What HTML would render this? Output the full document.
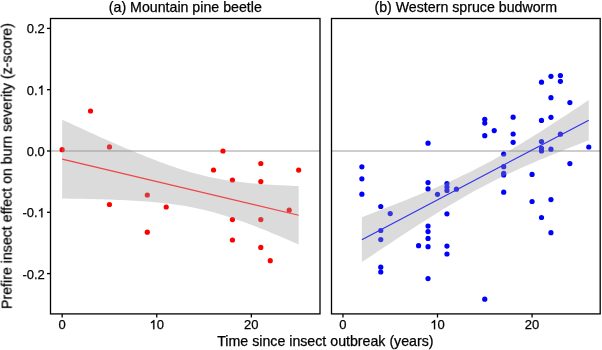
<!DOCTYPE html>
<html><head><meta charset="utf-8"><style>
html,body{margin:0;padding:0;background:#fff;width:602px;height:350px;overflow:hidden}
svg{display:block}
text{will-change:transform;stroke:#000;stroke-width:0.25px}
text{font-family:"Liberation Sans",sans-serif}
</style></head><body>
<svg width="602" height="350" viewBox="0 0 602 350">
<rect width="602" height="350" fill="#fff"/>
<line x1="50.5" y1="151.0" x2="320" y2="151.0" stroke="#bdbdbd" stroke-width="1.5"/>
<line x1="331.5" y1="151.0" x2="600.2" y2="151.0" stroke="#bdbdbd" stroke-width="1.5"/>
<circle cx="62.15" cy="149.7" r="2.6" fill="#ff0000"/>
<circle cx="90.53" cy="111" r="2.6" fill="#ff0000"/>
<circle cx="109.45" cy="146.9" r="2.6" fill="#ff0000"/>
<circle cx="109.45" cy="204.5" r="2.6" fill="#ff0000"/>
<circle cx="147.29" cy="195" r="2.6" fill="#ff0000"/>
<circle cx="147.29" cy="232.2" r="2.6" fill="#ff0000"/>
<circle cx="166.21" cy="207" r="2.6" fill="#ff0000"/>
<circle cx="213.51" cy="170" r="2.6" fill="#ff0000"/>
<circle cx="222.97" cy="151" r="2.6" fill="#ff0000"/>
<circle cx="232.43" cy="180" r="2.6" fill="#ff0000"/>
<circle cx="232.43" cy="219.6" r="2.6" fill="#ff0000"/>
<circle cx="232.43" cy="240" r="2.6" fill="#ff0000"/>
<circle cx="260.81" cy="163.5" r="2.6" fill="#ff0000"/>
<circle cx="260.81" cy="181.6" r="2.6" fill="#ff0000"/>
<circle cx="260.81" cy="219.6" r="2.6" fill="#ff0000"/>
<circle cx="260.81" cy="247.4" r="2.6" fill="#ff0000"/>
<circle cx="270.27" cy="260.7" r="2.6" fill="#ff0000"/>
<circle cx="289.19" cy="210.2" r="2.6" fill="#ff0000"/>
<circle cx="298.65" cy="170.1" r="2.6" fill="#ff0000"/>
<circle cx="361.86" cy="166.8" r="2.6" fill="#0000ff"/>
<circle cx="361.86" cy="178.8" r="2.6" fill="#0000ff"/>
<circle cx="361.86" cy="194.2" r="2.6" fill="#0000ff"/>
<circle cx="380.77" cy="206.5" r="2.6" fill="#0000ff"/>
<circle cx="380.77" cy="230.5" r="2.6" fill="#0000ff"/>
<circle cx="380.77" cy="239.6" r="2.6" fill="#0000ff"/>
<circle cx="380.77" cy="267.2" r="2.6" fill="#0000ff"/>
<circle cx="380.77" cy="272" r="2.6" fill="#0000ff"/>
<circle cx="390.22" cy="213.6" r="2.6" fill="#0000ff"/>
<circle cx="418.59" cy="245.7" r="2.6" fill="#0000ff"/>
<circle cx="428.04" cy="143.2" r="2.6" fill="#0000ff"/>
<circle cx="428.04" cy="182.6" r="2.6" fill="#0000ff"/>
<circle cx="428.04" cy="188.9" r="2.6" fill="#0000ff"/>
<circle cx="428.04" cy="226.1" r="2.6" fill="#0000ff"/>
<circle cx="428.04" cy="231.6" r="2.6" fill="#0000ff"/>
<circle cx="428.04" cy="238.4" r="2.6" fill="#0000ff"/>
<circle cx="428.04" cy="246.7" r="2.6" fill="#0000ff"/>
<circle cx="428.04" cy="278.6" r="2.6" fill="#0000ff"/>
<circle cx="437.50" cy="194.3" r="2.6" fill="#0000ff"/>
<circle cx="446.95" cy="183.5" r="2.6" fill="#0000ff"/>
<circle cx="446.95" cy="187" r="2.6" fill="#0000ff"/>
<circle cx="446.95" cy="190.5" r="2.6" fill="#0000ff"/>
<circle cx="446.95" cy="213.8" r="2.6" fill="#0000ff"/>
<circle cx="446.95" cy="246.1" r="2.6" fill="#0000ff"/>
<circle cx="446.95" cy="254" r="2.6" fill="#0000ff"/>
<circle cx="456.41" cy="189.2" r="2.6" fill="#0000ff"/>
<circle cx="484.77" cy="119.3" r="2.6" fill="#0000ff"/>
<circle cx="484.77" cy="123.1" r="2.6" fill="#0000ff"/>
<circle cx="484.77" cy="135.7" r="2.6" fill="#0000ff"/>
<circle cx="484.77" cy="299.2" r="2.6" fill="#0000ff"/>
<circle cx="494.23" cy="130.6" r="2.6" fill="#0000ff"/>
<circle cx="503.69" cy="154.0" r="2.6" fill="#0000ff"/>
<circle cx="503.69" cy="166.7" r="2.6" fill="#0000ff"/>
<circle cx="503.69" cy="173.3" r="2.6" fill="#0000ff"/>
<circle cx="503.69" cy="175.0" r="2.6" fill="#0000ff"/>
<circle cx="503.69" cy="192.2" r="2.6" fill="#0000ff"/>
<circle cx="513.14" cy="117.2" r="2.6" fill="#0000ff"/>
<circle cx="513.14" cy="134" r="2.6" fill="#0000ff"/>
<circle cx="513.14" cy="142.3" r="2.6" fill="#0000ff"/>
<circle cx="532.05" cy="174.4" r="2.6" fill="#0000ff"/>
<circle cx="532.05" cy="201.5" r="2.6" fill="#0000ff"/>
<circle cx="541.50" cy="82.2" r="2.6" fill="#0000ff"/>
<circle cx="541.50" cy="120.4" r="2.6" fill="#0000ff"/>
<circle cx="541.50" cy="141.6" r="2.6" fill="#0000ff"/>
<circle cx="541.50" cy="148.4" r="2.6" fill="#0000ff"/>
<circle cx="541.50" cy="151" r="2.6" fill="#0000ff"/>
<circle cx="541.50" cy="217.5" r="2.6" fill="#0000ff"/>
<circle cx="550.96" cy="76.3" r="2.6" fill="#0000ff"/>
<circle cx="550.96" cy="97.7" r="2.6" fill="#0000ff"/>
<circle cx="550.96" cy="117.3" r="2.6" fill="#0000ff"/>
<circle cx="550.96" cy="149.2" r="2.6" fill="#0000ff"/>
<circle cx="550.96" cy="199.6" r="2.6" fill="#0000ff"/>
<circle cx="550.96" cy="232.7" r="2.6" fill="#0000ff"/>
<circle cx="560.41" cy="75.5" r="2.6" fill="#0000ff"/>
<circle cx="560.41" cy="81.3" r="2.6" fill="#0000ff"/>
<circle cx="560.41" cy="134.2" r="2.6" fill="#0000ff"/>
<circle cx="569.87" cy="102.6" r="2.6" fill="#0000ff"/>
<circle cx="569.87" cy="163.6" r="2.6" fill="#0000ff"/>
<circle cx="588.78" cy="147" r="2.6" fill="#0000ff"/>
<polygon points="62.15,119.65 66.16,121.51 70.17,123.36 74.18,125.20 78.18,127.04 82.19,128.87 86.20,130.70 90.21,132.52 94.22,134.32 98.23,136.13 102.23,137.92 106.24,139.70 110.25,141.47 114.26,143.23 118.27,144.97 122.28,146.70 126.29,148.42 130.29,150.12 134.30,151.80 138.31,153.45 142.32,155.09 146.33,156.70 150.34,158.29 154.34,159.85 158.35,161.38 162.36,162.87 166.37,164.33 170.38,165.74 174.39,167.12 178.40,168.45 182.40,169.73 186.41,170.95 190.42,172.13 194.43,173.25 198.44,174.31 202.45,175.32 206.46,176.26 210.46,177.15 214.47,177.98 218.48,178.75 222.49,179.46 226.50,180.13 230.51,180.74 234.51,181.30 238.52,181.82 242.53,182.30 246.54,182.74 250.55,183.14 254.56,183.51 258.57,183.85 262.57,184.16 266.58,184.45 270.59,184.71 274.60,184.95 278.61,185.17 282.62,185.37 286.62,185.55 290.63,185.72 294.64,185.88 298.65,186.02 298.65,244.52 294.64,242.76 290.63,241.01 286.62,239.27 282.62,237.56 278.61,235.85 274.60,234.17 270.59,232.50 266.58,230.86 262.57,229.24 258.57,227.65 254.56,226.08 250.55,224.55 246.54,223.05 242.53,221.58 238.52,220.16 234.51,218.77 230.51,217.43 226.50,216.14 222.49,214.90 218.48,213.71 214.47,212.58 210.46,211.50 206.46,210.49 202.45,209.53 198.44,208.63 194.43,207.78 190.42,207.00 186.41,206.27 182.40,205.60 178.40,204.97 174.39,204.40 170.38,203.87 166.37,203.38 162.36,202.93 158.35,202.52 154.34,202.14 150.34,201.80 146.33,201.48 142.32,201.19 138.31,200.92 134.30,200.68 130.29,200.45 126.29,200.25 122.28,200.06 118.27,199.89 114.26,199.73 110.25,199.58 106.24,199.45 102.23,199.32 98.23,199.21 94.22,199.11 90.21,199.01 86.20,198.93 82.19,198.85 78.18,198.78 74.18,198.71 70.17,198.65 66.16,198.60 62.15,198.55" fill="#999999" fill-opacity="0.35"/>
<polygon points="361.86,217.25 365.71,215.77 369.55,214.29 373.40,212.81 377.24,211.32 381.09,209.82 384.94,208.32 388.78,206.82 392.63,205.30 396.47,203.78 400.32,202.25 404.17,200.72 408.01,199.17 411.86,197.61 415.71,196.04 419.55,194.46 423.40,192.87 427.24,191.26 431.09,189.64 434.94,187.99 438.78,186.33 442.63,184.65 446.47,182.95 450.32,181.22 454.17,179.46 458.01,177.68 461.86,175.87 465.70,174.03 469.55,172.15 473.40,170.24 477.24,168.29 481.09,166.31 484.94,164.29 488.78,162.23 492.63,160.13 496.47,158.00 500.32,155.84 504.17,153.64 508.01,151.41 511.86,149.15 515.70,146.86 519.55,144.54 523.40,142.20 527.24,139.84 531.09,137.45 534.93,135.05 538.78,132.63 542.63,130.19 546.47,127.74 550.32,125.27 554.17,122.79 558.01,120.30 561.86,117.80 565.70,115.28 569.55,112.76 573.40,110.24 577.24,107.70 581.09,105.16 584.93,102.61 588.78,100.05 588.78,140.26 584.93,141.76 581.09,143.26 577.24,144.77 573.40,146.29 569.55,147.81 565.70,149.34 561.86,150.88 558.01,152.43 554.17,153.99 550.32,155.56 546.47,157.15 542.63,158.74 538.78,160.36 534.93,161.99 531.09,163.63 527.24,165.30 523.40,166.99 519.55,168.70 515.70,170.43 511.86,172.19 508.01,173.99 504.17,175.81 500.32,177.66 496.47,179.55 492.63,181.47 488.78,183.42 484.94,185.42 481.09,187.45 477.24,189.52 473.40,191.62 469.55,193.76 465.70,195.93 461.86,198.14 458.01,200.38 454.17,202.65 450.32,204.95 446.47,207.27 442.63,209.62 438.78,211.99 434.94,214.38 431.09,216.79 427.24,219.21 423.40,221.66 419.55,224.11 415.71,226.58 411.86,229.07 408.01,231.56 404.17,234.07 400.32,236.58 396.47,239.10 392.63,241.63 388.78,244.17 384.94,246.72 381.09,249.27 377.24,251.82 373.40,254.39 369.55,256.95 365.71,259.52 361.86,262.10" fill="#999999" fill-opacity="0.35"/>
<line x1="62.15" y1="159.10" x2="298.65" y2="215.27" stroke="#f04444" stroke-width="1.2"/>
<line x1="361.86" y1="239.67" x2="588.78" y2="120.16" stroke="#3030f0" stroke-width="1.1"/>
<rect x="50.5" y="18.5" width="269.5" height="295.4" fill="none" stroke="#000" stroke-width="1.3"/>
<rect x="331.5" y="18.5" width="268.7" height="295.4" fill="none" stroke="#000" stroke-width="1.3"/>
<line x1="47" y1="28.40" x2="50.5" y2="28.40" stroke="#000" stroke-width="1.3"/>
<text x="44.8" y="33.40" text-anchor="end" font-size="13" font-family="Liberation Sans, sans-serif" fill="#000">0.2</text>
<line x1="47" y1="89.70" x2="50.5" y2="89.70" stroke="#000" stroke-width="1.3"/>
<text x="37.57" y="94.70" text-anchor="end" font-size="13" font-family="Liberation Sans, sans-serif" fill="#000">0.</text>
<path transform="translate(37.57,94.70) scale(0.006348,-0.006348)" d="M763 0H583V1147Q518 1085 412.5 1023T223 930V1104Q374 1175 487 1276T647 1450H763V0Z" fill="#000" stroke="#000" stroke-width="39.4"/>
<line x1="47" y1="151.00" x2="50.5" y2="151.00" stroke="#000" stroke-width="1.3"/>
<text x="44.8" y="156.00" text-anchor="end" font-size="13" font-family="Liberation Sans, sans-serif" fill="#000">0.0</text>
<line x1="47" y1="212.30" x2="50.5" y2="212.30" stroke="#000" stroke-width="1.3"/>
<text x="37.57" y="217.30" text-anchor="end" font-size="13" font-family="Liberation Sans, sans-serif" fill="#000">-0.</text>
<path transform="translate(37.57,217.30) scale(0.006348,-0.006348)" d="M763 0H583V1147Q518 1085 412.5 1023T223 930V1104Q374 1175 487 1276T647 1450H763V0Z" fill="#000" stroke="#000" stroke-width="39.4"/>
<line x1="47" y1="273.60" x2="50.5" y2="273.60" stroke="#000" stroke-width="1.3"/>
<text x="44.8" y="278.60" text-anchor="end" font-size="13" font-family="Liberation Sans, sans-serif" fill="#000">-0.2</text>
<line x1="62.15" y1="313.9" x2="62.15" y2="317.5" stroke="#000" stroke-width="1.3"/>
<text x="62.15" y="329.2" text-anchor="middle" font-size="13" font-family="Liberation Sans, sans-serif" fill="#000">0</text>
<line x1="156.75" y1="313.9" x2="156.75" y2="317.5" stroke="#000" stroke-width="1.3"/>
<text x="156.75" y="329.2" text-anchor="start" font-size="13" font-family="Liberation Sans, sans-serif" fill="#000">0</text>
<path transform="translate(149.52,329.20) scale(0.006348,-0.006348)" d="M763 0H583V1147Q518 1085 412.5 1023T223 930V1104Q374 1175 487 1276T647 1450H763V0Z" fill="#000" stroke="#000" stroke-width="39.4"/>
<line x1="251.35" y1="313.9" x2="251.35" y2="317.5" stroke="#000" stroke-width="1.3"/>
<text x="251.35" y="329.2" text-anchor="middle" font-size="13" font-family="Liberation Sans, sans-serif" fill="#000">20</text>
<line x1="342.95" y1="313.9" x2="342.95" y2="317.5" stroke="#000" stroke-width="1.3"/>
<text x="342.95" y="329.2" text-anchor="middle" font-size="13" font-family="Liberation Sans, sans-serif" fill="#000">0</text>
<line x1="437.50" y1="313.9" x2="437.50" y2="317.5" stroke="#000" stroke-width="1.3"/>
<text x="437.50" y="329.2" text-anchor="start" font-size="13" font-family="Liberation Sans, sans-serif" fill="#000">0</text>
<path transform="translate(430.27,329.20) scale(0.006348,-0.006348)" d="M763 0H583V1147Q518 1085 412.5 1023T223 930V1104Q374 1175 487 1276T647 1450H763V0Z" fill="#000" stroke="#000" stroke-width="39.4"/>
<line x1="532.05" y1="313.9" x2="532.05" y2="317.5" stroke="#000" stroke-width="1.3"/>
<text x="532.05" y="329.2" text-anchor="middle" font-size="13" font-family="Liberation Sans, sans-serif" fill="#000">20</text>
<text x="185.3" y="11.75" text-anchor="middle" font-size="14.2" font-family="Liberation Sans, sans-serif" fill="#000">(a) Mountain pine beetle</text>
<text x="465.8" y="11.75" text-anchor="middle" font-size="14.2" font-family="Liberation Sans, sans-serif" fill="#000">(b) Western spruce budworm</text>
<text x="325.4" y="346.4" text-anchor="middle" font-size="14.2" font-family="Liberation Sans, sans-serif" fill="#000">Time since insect outbreak (years)</text>
<text transform="translate(11.6,166.1) rotate(-90)" x="0" y="0" text-anchor="middle" font-size="14.2" font-family="Liberation Sans, sans-serif" fill="#000">Prefire insect effect on burn severity (z-score)</text>
</svg>
</body></html>
